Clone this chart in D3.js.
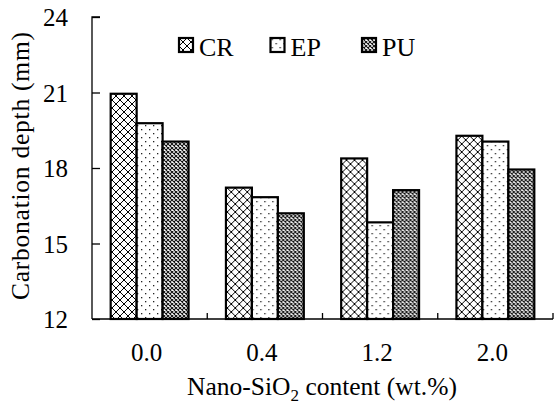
<!DOCTYPE html>
<html>
<head>
<meta charset="utf-8">
<script src="https://cdn.jsdelivr.net/npm/d3@7"></script>
<style>
  body { margin: 0; background: #fff; }
  text { font-family: "Liberation Serif", "Times New Roman", serif; fill: #000; }
</style>
</head>
<body>
<svg id="chart" width="555" height="405"></svg>
<script>
const categories = ['0.0', '0.4', '1.2', '2.0']
const seriesNames = ['CR', 'EP', 'PU']
const crValues = [20.95, 17.22, 18.38, 19.28]
const epValues = [19.78, 16.84, 15.84, 19.05]
const puValues = [19.05, 16.2, 17.12, 17.94]
const yTicks = [12, 15, 18, 21, 24]

const series = [crValues, epValues, puValues]
const margin = { left: 92, right: 2, top: 17, bottom: 86 }
const width = 555
const height = 405

const svg = d3.select('#chart')
const defs = svg.append('defs')

// fill patterns: cross hatch, sparse dots, dense grey mesh
const pCR = defs.append('pattern').attr('id', 'p-CR')
	.attr('patternUnits', 'userSpaceOnUse').attr('width', 8).attr('height', 8)
pCR.append('rect').attr('width', 8).attr('height', 8).attr('fill', '#fff')
pCR.append('path').attr('d', 'M0,0L8,8M8,0L0,8M-1,7L1,9M7,-1L9,1M-1,1L1,-1M7,9L9,7')
	.attr('stroke', '#000').attr('stroke-width', 1)

const pEP = defs.append('pattern').attr('id', 'p-EP')
	.attr('patternUnits', 'userSpaceOnUse').attr('width', 8).attr('height', 8)
pEP.append('rect').attr('width', 8).attr('height', 8).attr('fill', '#fff')
pEP.append('rect').attr('x', 1).attr('y', 1).attr('width', 1.3).attr('height', 1.3).attr('fill', '#222')
pEP.append('rect').attr('x', 5).attr('y', 5).attr('width', 1.3).attr('height', 1.3).attr('fill', '#222')

const pPU = defs.append('pattern').attr('id', 'p-PU')
	.attr('patternUnits', 'userSpaceOnUse').attr('width', 4).attr('height', 4)
pPU.append('rect').attr('width', 4).attr('height', 4).attr('fill', '#fff')
pPU.append('path').attr('d', 'M0,0L4,4M4,0L0,4')
	.attr('stroke', '#111').attr('stroke-width', 1.1)

const x = d3.scaleBand()
	.domain(categories)
	.range([margin.left, width - margin.right])

const xInner = d3.scaleBand()
	.domain(seriesNames)
	.range([0, x.bandwidth()])
	.paddingOuter(0.72)

const y = d3.scaleLinear()
	.domain([12, 24])
	.range([height - margin.bottom, margin.top])

// bars
const groups = svg.append('g').selectAll('g')
	.data(categories)
	.join('g')
		.attr('transform', (c) => `translate(${x(c)},0)`)

groups.selectAll('rect')
	.data((c, i) => seriesNames.map((s, k) => ({ s, v: series[k][i] })))
	.join('rect')
		.attr('x', (d) => xInner(d.s))
		.attr('width', xInner.bandwidth())
		.attr('y', (d) => y(d.v))
		.attr('height', (d) => y(12) - y(d.v))
		.attr('fill', (d) => `url(#p-${d.s})`)
		.attr('stroke', '#000')
		.attr('stroke-width', 2.2)

// y axis, ticks inward
const yAxis = svg.append('g')
	.attr('transform', `translate(${margin.left},0)`)
	.call(d3.axisRight(y).tickValues(yTicks).tickSize(8).tickFormat(d3.format('d')))
yAxis.select('.domain').attr('d', `M8,${y(24)}H0V${y(12)}`).attr('stroke-width', 1.3)
yAxis.selectAll('.tick line').attr('stroke-width', 1.3)
yAxis.selectAll('.tick text')
	.attr('x', -24).attr('text-anchor', 'end').attr('dy', '0.34em')
	.attr('font-size', 25)

// x axis with boundary ticks pointing up
const xAxisG = svg.append('g')
const x0 = margin.left
const x1 = width - margin.right
xAxisG.append('line')
	.attr('x1', x0).attr('x2', x1)
	.attr('y1', y(12)).attr('y2', y(12))
	.attr('stroke', '#000').attr('stroke-width', 1.3)
xAxisG.selectAll('line.bt')
	.data(categories.slice(1).concat(['end']))
	.join('line')
		.attr('class', 'bt')
		.attr('x1', (c) => c === 'end' ? x1 : x(c))
		.attr('x2', (c) => c === 'end' ? x1 : x(c))
		.attr('y1', y(12)).attr('y2', y(12) - 6)
		.attr('stroke', '#000').attr('stroke-width', 1.3)
xAxisG.selectAll('text')
	.data(categories)
	.join('text')
		.attr('x', (c) => x(c) + x.bandwidth() / 2 - 3)
		.attr('y', 361)
		.attr('text-anchor', 'middle')
		.attr('font-size', 25)
		.text((c) => c)

// axis titles
svg.append('text')
	.attr('transform', `translate(29,${(y(12) + y(24)) / 2 - 2}) rotate(-90)`)
	.attr('text-anchor', 'middle')
	.attr('font-size', 25.5)
	.attr('textLength', 268)
	.text('Carbonation depth (mm)')

const xTitle = svg.append('text')
	.attr('x', 322).attr('y', 395)
	.attr('text-anchor', 'middle')
	.attr('font-size', 25.5)
xTitle.append('tspan').text('Nano-SiO')
xTitle.append('tspan').attr('font-size', 17).attr('dy', 6).text('2')
xTitle.append('tspan').attr('dy', -6).text(' content (wt.%)')

// legend
const legendX = d3.scalePoint()
	.domain(seriesNames)
	.range([179, 362])
const legend = svg.append('g').selectAll('g')
	.data(seriesNames)
	.join('g')
		.attr('transform', (s) => `translate(${legendX(s)},38)`)
legend.append('rect')
	.attr('width', 14).attr('height', 14)
	.attr('fill', (s) => `url(#p-${s})`)
	.attr('stroke', '#000').attr('stroke-width', 2.2)
legend.append('text')
	.attr('x', 20).attr('y', 18)
	.attr('font-size', 26)
	.text((s) => s)
</script>
</body>
</html>
